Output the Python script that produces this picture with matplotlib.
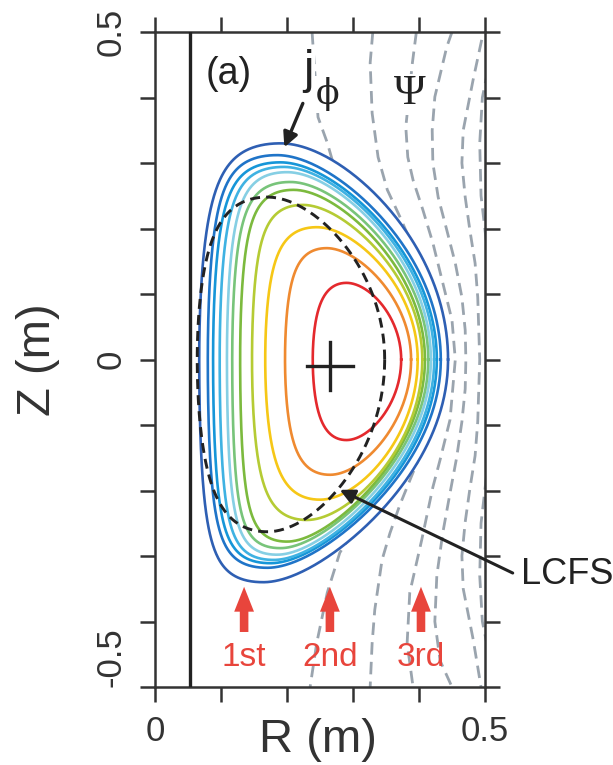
import numpy as np
import matplotlib
matplotlib.use("Agg")
import matplotlib.pyplot as plt
from matplotlib.patches import Polygon

plt.rcParams['font.family'] = ['Liberation Sans', 'DejaVu Sans']

# j_phi contour levels, outermost first (metres)
jphi_colors = ['#2e5fb3', '#1f74c8', '#1696d8', '#3fb2e2', '#86cfe4', '#78c47a',
               '#7cba3e', '#b5cb34', '#f6c716', '#ef8a30', '#e4292d']
r_inner = [0.067, 0.080, 0.088, 0.098, 0.109, 0.117, 0.129, 0.147, 0.167, 0.197, 0.239]
r_outer = [0.444, 0.433, 0.427, 0.423, 0.418, 0.414, 0.409, 0.405, 0.398, 0.388, 0.373]
z_top = [0.330, 0.312, 0.301, 0.294, 0.286, 0.271, 0.259, 0.236, 0.202, 0.170, 0.117]
z_bottom = [-0.340, -0.318, -0.311, -0.306, -0.298, -0.288, -0.278, -0.245, -0.214, -0.176, -0.123]
r_at_top = [0.190, 0.185, 0.190, 0.195, 0.200, 0.205, 0.210, 0.224, 0.245, 0.260, 0.290]
r_at_bottom = [0.164, 0.170, 0.175, 0.180, 0.185, 0.190, 0.200, 0.230, 0.250, 0.265, 0.290]
square_in = [0.13, 0.13, 0.13, 0.13, 0.12, 0.12, 0.11, 0.10, 0.09, 0.08, 0.05]

# last closed flux surface: r_in, r_out, z_top, z_bottom, r_at_top, r_at_bottom, squareness
lcfs = [0.064, 0.348, 0.248, -0.263, 0.170, 0.170, 0.08]

# poloidal flux lines (dashed grey)
psi_r = [
    [0.238, 0.240, 0.247, 0.261, 0.273, 0.300, 0.330, 0.340, 0.330, 0.300, 0.292, 0.280, 0.261, 0.245, 0.235],
    [0.330, 0.326, 0.329, 0.338, 0.352, 0.371, 0.391, 0.417, 0.432, 0.417, 0.371, 0.356, 0.344, 0.333, 0.329, 0.326],
    [0.396, 0.390, 0.380, 0.383, 0.391, 0.406, 0.421, 0.436, 0.450, 0.455, 0.447, 0.432, 0.421, 0.404, 0.386, 0.382, 0.391],
    [0.450, 0.442, 0.424, 0.420, 0.421, 0.429, 0.442, 0.455, 0.465, 0.470, 0.471, 0.470, 0.465, 0.457, 0.447, 0.436, 0.427, 0.424, 0.432, 0.450],
    [0.495, 0.482, 0.467, 0.465, 0.470, 0.477, 0.485, 0.489, 0.492, 0.489, 0.485, 0.477, 0.470, 0.465, 0.467, 0.482, 0.494],
    [0.510, 0.496, 0.492, 0.494, 0.502, 0.510],
    [0.510, 0.502, 0.494, 0.492, 0.496, 0.510],
]
psi_z = [
    [0.50, 0.47, 0.37, 0.331, 0.289, 0.22, 0.10, 0.0, -0.10, -0.21, -0.276, -0.295, -0.356, -0.433, -0.50],
    [0.50, 0.453, 0.376, 0.309, 0.259, 0.218, 0.172, 0.09, 0.0, -0.108, -0.222, -0.265, -0.306, -0.382, -0.433, -0.50],
    [0.50, 0.453, 0.355, 0.309, 0.274, 0.228, 0.178, 0.117, 0.060, 0.0, -0.092, -0.153, -0.195, -0.276, -0.356, -0.433, -0.50],
    [0.50, 0.477, 0.401, 0.350, 0.300, 0.248, 0.198, 0.147, 0.095, 0.045, 0.0, -0.045, -0.095, -0.150, -0.204, -0.265, -0.330, -0.400, -0.460, -0.50],
    [0.488, 0.427, 0.350, 0.300, 0.248, 0.198, 0.147, 0.095, 0.0, -0.095, -0.147, -0.198, -0.248, -0.300, -0.350, -0.427, -0.50],
    [0.47, 0.40, 0.33, 0.25, 0.18, 0.12],
    [-0.12, -0.18, -0.25, -0.33, -0.40, -0.47],
]

wall_r = 0.053
axis_rz = (0.265, -0.010)
launch_r = [0.135, 0.265, 0.403]
launch_labels = ['1st', '2nd', '3rd']

RED = '#e8453c'
INK = '#222222'


def flux_shape(r_in, r_out, zt, zb, rt, rb, sq, n=600):
    """Closed D-shaped curve through the measured extents."""
    th = np.linspace(0, 2 * np.pi, n)
    r0 = (r_in + r_out) / 2
    a = (r_out - r_in) / 2
    up = np.sin(th) >= 0
    d = np.where(up, np.arcsin((r0 - rt) / a), np.arcsin((r0 - rb) / a))
    k = np.where(up, zt, -zb)
    s = np.where(np.cos(th) < 0, sq, 0.0)
    return r0 + a * np.cos(th + d * np.sin(th)), k * np.sin(th + s * np.sin(2 * th))


def main():
    fig = plt.figure(figsize=(6.13, 7.65), dpi=100)
    ax = fig.add_axes([155 / 613, 78 / 765, 330 / 613, 655 / 765])
    ax.set_xlim(0, 0.5)
    ax.set_ylim(-0.5, 0.5)

    # flux lines
    for rr, zz in zip(psi_r, psi_z):
        ax.plot(rr, zz, color='#9aa4ae', lw=2.0, dashes=(4.5, 2.6), zorder=1)

    # j_phi contours
    for i, c in enumerate(jphi_colors):
        R, Z = flux_shape(r_inner[i], r_outer[i], z_top[i], z_bottom[i],
                          r_at_top[i], r_at_bottom[i], square_in[i])
        if i == 0:
            ax.add_patch(Polygon(np.column_stack([R, Z]), closed=True,
                                 facecolor='white', edgecolor='none', zorder=2))
        ax.plot(R, Z, color=c, lw=1.9, zorder=3)

    R, Z = flux_shape(*lcfs)
    ax.plot(R, Z, color=INK, lw=2.1, dashes=(3.4, 2.1), zorder=4)

    # wall and magnetic axis
    ax.axvline(wall_r, color=INK, lw=2.4, zorder=4)
    ax.plot([axis_rz[0] - 0.035, axis_rz[0] + 0.035], [axis_rz[1]] * 2, color=INK, lw=2.4, zorder=5)
    ax.plot([axis_rz[0]] * 2, [axis_rz[1] - 0.036, axis_rz[1] + 0.036], color=INK, lw=2.4, zorder=5)

    # labels inside
    box = dict(facecolor='white', edgecolor='none', pad=1)
    ax.text(0.112, 0.436, '(a)', fontsize=27, ha='center', va='center', color=INK, zorder=6)
    ax.text(0.386, 0.405, '\u03a8', fontsize=31, family='Liberation Serif', ha='center', va='center',
            color=INK, bbox=box, zorder=6)
    ax.text(0.232, 0.440, 'j', fontsize=34, ha='center', va='center', color=INK, bbox=box, zorder=6)
    ax.text(0.262, 0.405, '\u03d5', fontsize=25, family='DejaVu Serif', ha='center', va='center',
            color=INK, bbox=box, zorder=6)
    ax.annotate('', xy=(0.196, 0.324), xytext=(0.224, 0.391),
                arrowprops=dict(arrowstyle='-|>', color=INK, lw=2.4, mutation_scale=22,
                                shrinkA=0, shrinkB=0), zorder=6)

    # LCFS pointer (runs outside the frame)
    ax.annotate('', xy=(0.280, -0.199), xytext=(0.542, -0.326), annotation_clip=False,
                arrowprops=dict(arrowstyle='-|>', color=INK, lw=2.2, mutation_scale=22,
                                shrinkA=0, shrinkB=0), zorder=6)
    ax.text(0.625, -0.329, 'LCFS', fontsize=26, ha='center', va='center', color=INK, clip_on=False)

    # launch positions
    for r, lab in zip(launch_r, launch_labels):
        ax.arrow(r, -0.416, 0, 0.069, width=0.013, head_width=0.030, head_length=0.038,
                 length_includes_head=True, color=RED, lw=0, zorder=6)
        ax.text(r, -0.455, lab, fontsize=24, ha='center', va='center', color=RED, zorder=6)

    # frame and ticks
    ticks_r = np.round(np.arange(0, 0.51, 0.1), 2)
    ticks_z = np.round(np.arange(-0.5, 0.51, 0.1), 2)
    ax.set_xticks(ticks_r)
    ax.set_xticklabels(['0', '', '', '', '', '0.5'])
    ax.set_yticks(ticks_z)
    ax.set_yticklabels(['-0.5'] + [''] * 4 + ['0'] + [''] * 4 + ['0.5'], rotation=90, va='center')
    ax.get_yticklabels()[0].set_va('bottom')
    ax.tick_params(direction='out', length=11, width=1.8, color='#333333', top=True, right=True,
                   labelsize=25, labelcolor='#333333', pad=9)
    for s in ax.spines.values():
        s.set_linewidth(1.8)
        s.set_color('#333333')

    fig.text(318 / 613, 1 - 740 / 765, 'R (m)', fontsize=34, ha='center', va='center', color='#333333')
    fig.text(38 / 613, 1 - 360 / 765, 'Z (m)', fontsize=34, ha='center', va='center', rotation=90,
             color='#333333')

    fig.savefig('out.png', dpi=100)


if __name__ == "__main__":
    main()
